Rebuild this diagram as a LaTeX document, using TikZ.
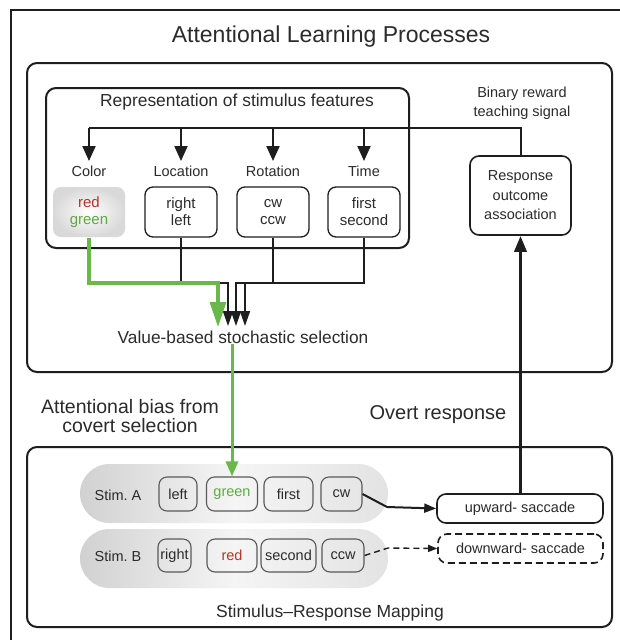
\documentclass[tikz,border=0pt]{standalone}
\usepackage{fontspec}
\setmainfont{Liberation Sans}
\usetikzlibrary{arrows.meta,calc}
\definecolor{txt}{HTML}{2B2B2B}
\definecolor{ln}{HTML}{1E1E1E}
\definecolor{grn}{HTML}{6BB84A}
\definecolor{grntxt}{HTML}{5DAA45}
\definecolor{redtxt}{HTML}{B0352A}
\frenchspacing
\begin{document}
\begin{tikzpicture}[x=1pt,y=-1pt,
  every node/.style={text=txt, inner sep=0pt},
  small/.style={font=\fontsize{14.5}{17}\selectfont},
  bigbox/.style={draw=ln, line width=2pt, rounded corners=10pt},
  featbox/.style={draw=ln, line width=1.3pt, rounded corners=8pt, minimum width=72pt, minimum height=50pt, align=center, font=\fontsize{15}{17}\selectfont},
  stimbox/.style={draw=black!65, line width=1.1pt, rounded corners=8pt, minimum height=34pt, font=\fontsize{14.5}{17}\selectfont},
  capsule/.style={rounded corners=29.5pt, minimum width=308pt, minimum height=59pt, left color=black!18, right color=black!11, middle color=black!4},
  fbarrow/.style={ln, line width=2pt, -{Triangle[length=15pt,width=13pt]}},
  selarrow/.style={ln, line width=1.6pt, -{Triangle[length=15pt,width=10pt]}},
  resbox/.style={draw=ln, line width=1.6pt, rounded corners=9pt, minimum width=166pt, minimum height=29pt, font=\fontsize{14.5}{17}\selectfont}
]
\clip (0,0) rectangle (620,640);
\fill[white] (0,0) rectangle (620,640);
\draw[ln, line width=2.5pt] (11,660) -- (11,10) -- (640,10);

% upper part
\node[font=\fontsize{23}{27}\selectfont] (title) at (331,37) {Attentional Learning Processes};
\node[bigbox, minimum width=585pt, minimum height=309pt] (upper) at (319.5,217.5) {};
\node[bigbox, minimum width=363pt, minimum height=160pt] (rep) at (227.5,168) {};
\node[font=\fontsize{17.4}{20}\selectfont] (reptitle) at (237,102) {Representation of stimulus features};
\node[font=\fontsize{14.5}{19.5}\selectfont, align=center] (binary) at (522,103) {Binary reward\\teaching signal};
\node[draw=ln, line width=1.6pt, rounded corners=9pt, minimum width=101pt, minimum height=79pt, align=center, font=\fontsize{14.5}{19.5}\selectfont] (resp) at (520.5,195.5) {Response\\outcome\\association};

\node[small] (lcol) at (89,171) {Color};
\node[small] (lloc) at (181,171) {Location};
\node[small] (lrot) at (273,171) {Rotation};
\node[small] (ltime) at (364,171) {Time};

\node[featbox, draw=none, rounded corners=8pt, inner color=white, outer color=black!15] (colbox) at (89,212) {\textcolor{redtxt}{red}\\\textcolor{grntxt}{green}};
\node[featbox] (locbox) at (181,212) {right\\left};
\node[featbox] (rotbox) at (273,212) {cw\\ccw};
\node[featbox] (timebox) at (364,212) {first\\second};

\coordinate (fb) at (520.5,128);
\draw[ln, line width=2pt] (resp.north) -- (fb) -- (lcol.north |- fb);
\foreach \n in {lcol,lloc,lrot,ltime}
  \draw[fbarrow] (\n.north |- fb) -- (\n.north |- 0,161);

\node[font=\fontsize{17.3}{20}\selectfont] (sel) at (243,337) {Value-based stochastic selection};
\coordinate (g1) at (218,283);
\coordinate (g2) at (218,327);
\coordinate (k1) at (228,283);
\coordinate (k2) at (228,326);
\coordinate (k3) at (236,283);
\coordinate (k4) at (236,326);
\coordinate (k5) at (245,283);
\coordinate (k6) at (245,326);
\draw[selarrow] (locbox.south) |- (k1) -- (k2);
\draw[selarrow] (rotbox.south) |- (k3) -- (k4);
\draw[selarrow] (timebox.south) |- (k5) -- (k6);
\draw[grn, line width=3.2pt, -{Triangle[length=25pt,width=16pt]}] (colbox.south) |- (g1) -- (g2);

% middle texts
\node[font=\fontsize{19.5}{19}\selectfont, align=center] (bias) at (130,416) {Attentional bias from\\covert selection};
\node[font=\fontsize{20}{24}\selectfont] (overt) at (438,415) {Overt response};

% lower part
\node[bigbox, minimum width=585pt, minimum height=180pt] (lower) at (319.5,537) {};
\node[font=\fontsize{17.5}{20}\selectfont] (srm) at (330,613) {Stimulus--Response Mapping};

\node[capsule] (capA) at (234,493.5) {};
\node[capsule] (capB) at (234,558.5) {};
\node[small] (stimA) at (118,495) {Stim. A};
\node[small] (stimB) at (118,556) {Stim. B};

\node[stimbox, minimum width=38pt] (aleft) at (178,494) {left};
\node[stimbox, minimum width=51pt] (agreen) at (232,494) {\textcolor{grntxt}{green}};
\node[stimbox, minimum width=49pt] (afirst) at (288.5,494) {first};
\node[stimbox, minimum width=41pt] (acw) at (341.5,494) {cw};

\node[stimbox, minimum width=33pt, minimum height=33pt] (bright) at (174.5,555.5) {right};
\node[stimbox, minimum width=50pt, minimum height=33pt] (bred) at (232,555.5) {\textcolor{redtxt}{red}};
\node[stimbox, minimum width=55pt, minimum height=33pt] (bsecond) at (288.5,555.5) {second};
\node[stimbox, minimum width=42pt, minimum height=33pt] (bccw) at (343,555.5) {ccw};

\node[resbox] (up) at (520,508.5) {upward- saccade};
\node[resbox, dashed, dash pattern=on 7pt off 4pt, minimum width=165pt] (down) at (520.5,548.5) {downward- saccade};

\coordinate (ma) at (387,507);
\coordinate (mb) at (388,548);
\draw[ln, line width=2pt, -{Triangle[length=12pt,width=9pt]}] (acw.east) -- (ma) -- (up.west);
\draw[ln, line width=1.4pt, dash pattern=on 6pt off 4pt, -{Triangle[length=9pt,width=7pt]}] (bccw.east) -- (mb) -- (down.west);

\draw[grn, line width=3pt, -{Triangle[length=15pt,width=12pt]}] (sel.south -| agreen.north) -- (agreen.north);
\draw[ln, line width=3.5pt, -{Triangle[length=16pt,width=12pt]}] (resp.south |- up.north) -- (resp.south);
\end{tikzpicture}
\end{document}
